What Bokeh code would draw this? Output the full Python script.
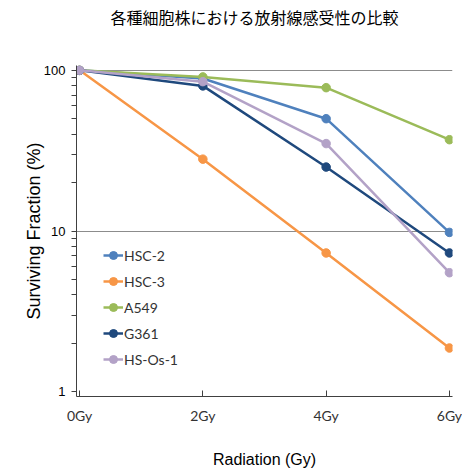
from bokeh.plotting import figure
from bokeh.models import (Range1d, FixedTicker, Legend, LegendItem, PrintfTickFormatter, Title)
from bokeh.embed import file_html
from bokeh.resources import INLINE

title_text = "各種細胞株における放射線感受性の比較"
doses = [0, 2, 4, 6]
dose_labels = ["0Gy", "2Gy", "4Gy", "6Gy"]
series_names = ["HSC-2", "HSC-3", "A549", "G361", "HS-Os-1"]
hsc2 = [100, 89, 50, 9.8]
hsc3 = [100, 28, 7.3, 1.87]
a549 = [100, 91, 78, 37]
g361 = [100, 80, 25, 7.3]
hsos1 = [100, 85, 35, 5.5]
colors = ["#4F81BD", "#F79646", "#9BBB59", "#1F497D", "#B3A2C7"]
y_ticks = [1, 10, 100]
y_minor = [2, 3, 4, 5, 6, 7, 8, 9, 20, 30, 40, 50, 60, 70, 80, 90]

p = figure(title=None, y_axis_type="log",
           x_range=Range1d(-0.05, 6.05), y_range=Range1d(10 ** -0.03, 10 ** 2.03),
           output_backend="svg", toolbar_location=None,
           frame_width=376, frame_height=331,
           min_border_left=76, min_border_right=10, min_border_top=0, min_border_bottom=66)
p.outline_line_color = None
p.background_fill_color = "white"

spacer = Title(text=" ", text_font="Noto Sans CJK JP", text_font_size="16px", standoff=9)
p.add_layout(spacer, "above")
main_title = Title(text=title_text, text_font="Noto Sans CJK JP", text_font_size="16px",
                   text_font_style="normal", text_color="#000000",
                   align="left", offset=34, standoff=4)
p.add_layout(main_title, "above")

items = []
for name, vals, c in zip(series_names, [hsc2, hsc3, a549, g361, hsos1], colors):
    r1 = p.line(doses, vals, line_color=c, line_width=2.5)
    r2 = p.scatter(doses, vals, size=8.5, fill_color=c, line_color=c)
    items.append(LegendItem(label=name, renderers=[r1, r2]))

legend = Legend(items=items, location=(27, 27), padding=0, margin=0,
                spacing=6, label_height=20, glyph_height=20, glyph_width=20,
                label_standoff=1, border_line_color=None, background_fill_alpha=0,
                label_text_font="Lato", label_text_font_size="14px", label_text_color="#333333")
p.add_layout(legend, "center")

# x axis
xa = p.xaxis[0]
xa.ticker = FixedTicker(ticks=doses)
xa.major_label_overrides = {d: l for d, l in zip(doses, dose_labels)}
xa.major_tick_in = 6
xa.major_tick_out = 0
xa.minor_tick_line_color = None
xa.axis_line_color = "#404040"
xa.major_tick_line_color = "#404040"
xa.major_label_text_font = "Lato"
xa.major_label_text_font_size = "14px"
xa.major_label_text_color = "#333333"
xa.major_label_standoff = 10
xa.axis_label = "Radiation (Gy)"
xa.axis_label_text_font = "Liberation Sans"
xa.axis_label_text_font_size = "16px"
xa.axis_label_text_font_style = "normal"
xa.axis_label_text_color = "#000000"
xa.axis_label_standoff = 24

# y axis
ya = p.yaxis[0]
ya.ticker = FixedTicker(ticks=y_ticks, minor_ticks=y_minor)
ya.formatter = PrintfTickFormatter(format="%d")
ya.major_tick_in = 0
ya.major_tick_out = 5
ya.minor_tick_in = 0
ya.minor_tick_out = 5
ya.axis_line_color = "#404040"
ya.major_tick_line_color = "#404040"
ya.minor_tick_line_color = "#404040"
ya.major_label_text_font = "Liberation Sans"
ya.major_label_text_font_size = "13px"
ya.major_label_text_color = "#000000"
ya.major_label_standoff = 6
ya.axis_label = "Surviving Fraction (%)"
ya.axis_label_text_font = "Liberation Sans"
ya.axis_label_text_font_size = "18px"
ya.axis_label_text_font_style = "normal"
ya.axis_label_text_color = "#000000"
ya.axis_label_standoff = -3

p.xgrid.grid_line_color = None
p.ygrid.ticker = FixedTicker(ticks=[10, 100])
p.ygrid.grid_line_color = "#8C8C8C"
p.ygrid.grid_line_width = 1

open("out.html", "w").write(file_html(p, INLINE))
